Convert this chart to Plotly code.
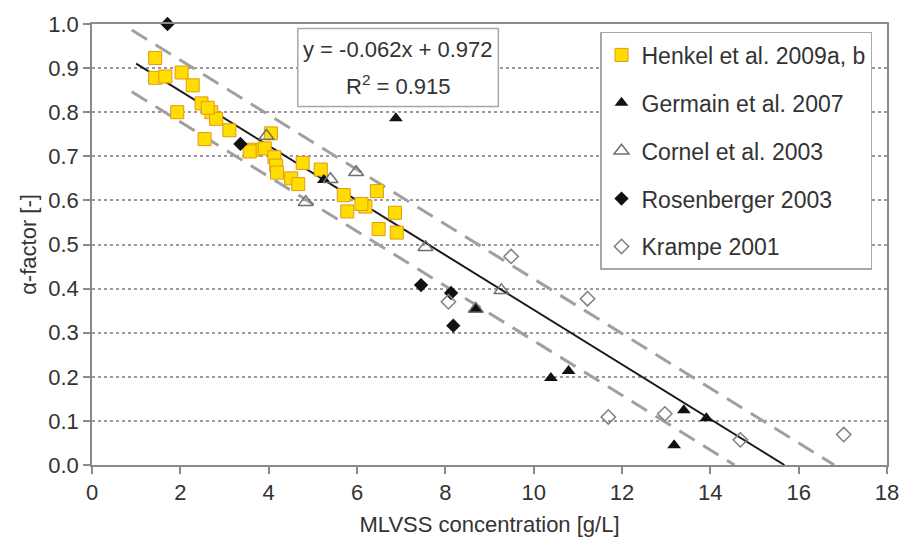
import plotly.graph_objects as go

# ---------------- data ----------------
henkel_x = [1.43, 1.43, 1.66, 2.03, 2.28, 1.93, 2.48, 2.70, 2.81, 2.62, 3.11, 2.55,
            3.66, 3.57, 3.91, 4.05, 4.13, 4.17, 4.19, 4.51, 4.67, 4.77, 5.18,
            5.70, 5.78, 6.19, 6.10, 6.45, 6.49, 6.86, 6.90]
henkel_y = [0.923, 0.878, 0.881, 0.890, 0.861, 0.800, 0.820, 0.800, 0.785, 0.810, 0.759, 0.739,
            0.715, 0.711, 0.718, 0.752, 0.698, 0.679, 0.663, 0.650, 0.637, 0.685, 0.670,
            0.612, 0.575, 0.586, 0.592, 0.621, 0.535, 0.572, 0.527]

germain_x = [5.25, 6.88, 8.69, 10.39, 10.79, 13.40, 13.18, 13.91]
germain_y = [0.646, 0.786, 0.354, 0.197, 0.213, 0.124, 0.045, 0.106]

cornel_x = [3.95, 4.84, 5.40, 5.98, 7.55, 8.69, 9.27]
cornel_y = [0.746, 0.596, 0.648, 0.664, 0.494, 0.354, 0.396]

rosen_x = [1.71, 3.36, 7.45, 8.13, 8.18]
rosen_y = [1.0, 0.728, 0.408, 0.390, 0.316]

krampe_x = [9.49, 8.07, 11.22, 11.69, 12.97, 14.68, 17.02]
krampe_y = [0.473, 0.370, 0.377, 0.109, 0.116, 0.057, 0.069]

# linear fit shown in the chart and its band
fit_slope = -0.062
fit_intercept = 0.972
fit_r2 = 0.915
band = 0.07
fit_x_start = 1.0
band_x_start = 0.9

x_ticks = [0, 2, 4, 6, 8, 10, 12, 14, 16, 18]

# ---------------- figure ----------------
TXT = "#333333"
FONT = "Liberation Sans, Arial, sans-serif"

fig = go.Figure()

def line_pts(x0, icpt):
    x1 = -icpt / fit_slope
    return [x0, x1], [fit_slope * x0 + icpt, fit_slope * x1 + icpt]

for off in (band, -band):
    lx, ly = line_pts(band_x_start, fit_intercept + off)
    fig.add_trace(go.Scatter(x=lx, y=ly, mode="lines", showlegend=False,
                             line=dict(color="#a0a0a0", width=3, dash="18px,10px"),
                             hoverinfo="skip"))
lx, ly = line_pts(fit_x_start, fit_intercept)
fig.add_trace(go.Scatter(x=lx, y=ly, mode="lines", showlegend=False,
                         line=dict(color="#1a1a1a", width=2), hoverinfo="skip"))

series = [
    ("Henkel et al. 2009a, b", henkel_x, henkel_y,
     dict(symbol="square", size=13, color="#FFDD00", line=dict(color="#E39A10", width=1))),
    ("Germain et al. 2007", germain_x, germain_y,
     dict(symbol="triangle-up", size=12, color="#111111", line=dict(width=0))),
    ("Cornel et al. 2003", cornel_x, cornel_y,
     dict(symbol="triangle-up-open", size=13, color="#707070", line=dict(width=1.5))),
    ("Rosenberger 2003", rosen_x, rosen_y,
     dict(symbol="diamond", size=11, color="#111111", line=dict(width=0))),
    ("Krampe 2001", krampe_x, krampe_y,
     dict(symbol="diamond-open", size=11, color="#808080", line=dict(width=1.5))),
]
for i, (name, xs, ys, mk) in enumerate(series):
    fig.add_trace(go.Scatter(x=xs, y=ys, mode="markers", name=name, marker=mk,
                             legendgroup=f"g{i}", cliponaxis=False))

# equation box
fig.add_shape(type="rect", xref="x", yref="y", x0=4.66, x1=9.2, y0=0.813, y1=0.99,
              line=dict(color="#a8a8a8", width=1.5), fillcolor="white", layer="above")
fig.add_annotation(
    x=6.93, y=0.943, xref="x", yref="y",
    text=f"y = {fit_slope:.3f}x + {fit_intercept:.3f}",
    showarrow=False, font=dict(family=FONT, size=22, color=TXT),
)
fig.add_annotation(
    x=6.93, y=0.862, xref="x", yref="y",
    text=f"R<sup>2</sup> = {fit_r2:.3f}",
    showarrow=False, font=dict(family=FONT, size=22, color=TXT),
)

fig.update_layout(
    width=911, height=546,
    margin=dict(l=92, r=15, t=16, b=81),
    paper_bgcolor="white", plot_bgcolor="white",
    font=dict(family=FONT, size=22, color=TXT),
    legend=dict(
        x=0.639, y=0.982, xanchor="left", yanchor="top",
        bgcolor="white", bordercolor="#a8a8a8", borderwidth=1.5,
        font=dict(family=FONT, size=23, color=TXT),
        tracegroupgap=15, traceorder="grouped",
    ),
)

fig.update_xaxes(
    range=[0, 18], tickvals=x_ticks, ticktext=[str(v) for v in x_ticks],
    showgrid=False, zeroline=False,
    showline=True, linecolor="#8a8a8a", linewidth=1.5, mirror=True,
    ticks="outside", ticklen=7, tickcolor="#8a8a8a", tickwidth=1.5,
    tickfont=dict(size=22, color=TXT),
    title=dict(text="MLVSS concentration [g/L]", font=dict(size=22, color=TXT), standoff=12),
)
fig.update_yaxes(
    range=[0, 1.0], dtick=0.1, tickformat=".1f",
    showgrid=True, gridcolor="#9a9a9a", griddash="dot", gridwidth=1.5,
    zeroline=False,
    showline=True, linecolor="#8a8a8a", linewidth=1.5, mirror=True,
    ticks="outside", ticklen=7, tickcolor="#8a8a8a", tickwidth=1.5,
    tickfont=dict(size=22, color=TXT),
    title=dict(text="α-factor [-]", font=dict(size=22, color=TXT), standoff=6),
)

fig.write_html("out.html")
